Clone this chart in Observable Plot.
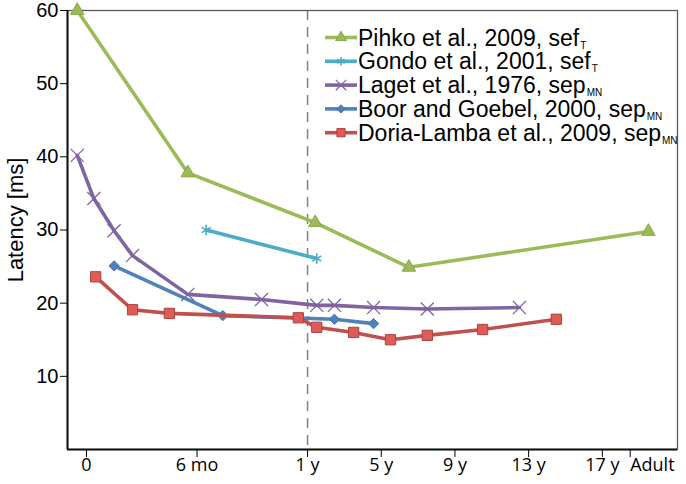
<!DOCTYPE html>
<html><head><meta charset="utf-8">
<script src="https://cdn.jsdelivr.net/npm/d3@7"></script>
<script src="https://cdn.jsdelivr.net/npm/@observablehq/plot@0.6"></script>
<style>body{margin:0;background:#fff} svg{display:block}</style>
</head><body><div id="chart"></div>
<script>
// ---- data (age in months; "Adult" plotted at ~19 y) ----
const seriesNames = ["Pihko et al., 2009, sef", "Gondo et al., 2001, sef", "Laget et al., 1976, sep", "Boor and Goebel, 2000, sep", "Doria-Lamba et al., 2009, sep"];
const seriesSubs = ["T", "T", "MN", "MN", "MN"];

const pihkoAge = [-0.5, 5.5, 17, 78, 234];
const pihkoLat = [60, 37.8, 31.0, 24.9, 29.8];

const gondoAge = [6.5, 18];
const gondoLat = [30.0, 26.1];

const lagetAge = [-0.5, 0.4, 1.5, 2.5, 5.5, 9.5, 18, 29.5, 55, 90, 150];
const lagetLat = [40.2, 34.3, 29.9, 26.5, 21.2, 20.5, 19.7, 19.7, 19.4, 19.2, 19.4];

const boorAge = [1.5, 7.4, 29.5, 55];
const boorLat = [25.1, 18.3, 17.8, 17.2];

const doriaAge = [0.5, 2.5, 4.5, 11.5, 18, 42, 66, 90, 126, 174];
const doriaLat = [23.6, 19.1, 18.6, 18.0, 16.7, 16.0, 15.0, 15.6, 16.4, 17.8];

const tickAges = [0, 6, 12, 60, 108, 156, 204, 228];
const tickLabels = ["0", "6 mo", "1 y", "5 y", "9 y", "13 y", "17 y", "Adult"];
const yTicks = [10, 20, 30, 40, 50, 60];

// ---- styles ----
const styles = [
  {color: "#9BBB59", symbol: "triangle", fill: "#9BBB59", stroke: "#86A846", r: 5, sw: 1},
  {color: "#4BACC6", symbol: "asterisk", fill: "none", stroke: "#4BACC6", r: 5, sw: 1.6},
  {color: "#8064A2", symbol: "times", fill: "none", stroke: "#8064A2", r: 6, sw: 1.3},
  {color: "#4F81BD", symbol: "diamond2", fill: "#4F81BD", stroke: "#3F6EA8", r: 4.6, sw: 1},
  {color: "#C0504D", symbol: "square", fill: "#DD5C58", stroke: "#B0403D", r: 5.8, sw: 1}
];

// piecewise age axis: first year in months, afterwards compressed 12x
const pos = m => m <= 12 ? m : 12 + (m - 12) / 12;
const tickPos = tickAges.map(pos);

const ages = [pihkoAge, gondoAge, lagetAge, boorAge, doriaAge];
const lats = [pihkoLat, gondoLat, lagetLat, boorLat, doriaLat];
const tables = ages.map((a, s) => a.map((age, i) => ({age, lat: lats[s][i]})));

const xMin = -1.03, xMax = 32.08;

const marks = [
  Plot.ruleX([pos(12)], {stroke: "#808080", strokeWidth: 1.5, strokeDasharray: "10,7"}),
  Plot.frame({stroke: "#5a5a5a", strokeWidth: 1.3}),
  Plot.ruleY([0], {stroke: "#111", strokeWidth: 2}),
  Plot.ruleX([xMin], {stroke: "#111", strokeWidth: 2}),
  Plot.axisY({ticks: yTicks, tickSize: 7, tickPadding: 2, fontSize: 20, label: null, fontFamily: "Liberation Sans"}),
  Plot.axisX({ticks: tickPos.slice(0, 7), tickFormat: d => tickLabels[tickPos.indexOf(d)], tickSize: 8, tickPadding: 1, fontSize: 18, label: null, fontFamily: "Open Sans"}),
  Plot.axisX({ticks: tickPos.slice(7), tickFormat: d => tickLabels[tickPos.indexOf(d)], tickSize: 8, tickPadding: 1, fontSize: 18, label: null, fontFamily: "Open Sans", textAnchor: "start", dx: -9})
];
tables.forEach((t, s) => {
  const st = styles[s];
  marks.push(Plot.line(t, {x: d => pos(d.age), y: "lat", stroke: st.color, strokeWidth: 3.6, strokeLinejoin: "round"}));
  marks.push(Plot.dot(t, {x: d => pos(d.age), y: "lat", symbol: st.symbol, r: st.r, fill: st.fill, stroke: st.stroke, strokeWidth: st.sw}));
});

const chart = Plot.plot({
  width: 686, height: 484,
  marginLeft: 67, marginRight: 9, marginTop: 10, marginBottom: 35,
  style: {fontFamily: "Liberation Sans", color: "#000", background: "#fff"},
  x: {type: "linear", domain: [xMin, xMax]},
  y: {domain: [0, 60]},
  marks
});

const svg = d3.select(chart);

// y-axis title
svg.append("text").attr("transform", "translate(23,220) rotate(-90)")
  .attr("text-anchor", "middle").style("font-family", "Liberation Sans").style("font-size", "22px")
  .attr("fill", "#000").text("Latency [ms]");

// ---- legend (inside the plot, top right) ----
const symMap = {triangle: d3.symbolTriangle, asterisk: d3.symbolAsterisk, times: d3.symbolTimes, diamond2: d3.symbolDiamond2, square: d3.symbolSquare};
const lg = svg.append("g").attr("text-anchor", "start");
seriesNames.forEach((name, i) => {
  const st = styles[i];
  const y = 37.5 + i * 23.8;
  lg.append("line").attr("x1", 325).attr("x2", 357).attr("y1", y).attr("y2", y)
    .attr("stroke", st.color).attr("stroke-width", 3.6);
  const rr = st.r * 0.8;
  lg.append("path").attr("transform", `translate(341,${y})`)
    .attr("d", d3.symbol(symMap[st.symbol], Math.PI * rr * rr)())
    .attr("fill", st.fill).attr("stroke", st.stroke).attr("stroke-width", st.sw);
  const t = lg.append("text").attr("x", 358).attr("y", y + 8).attr("fill", "#000")
    .attr("text-anchor", "start").style("font-family", "Liberation Sans").style("font-size", "23px");
  t.append("tspan").text(name);
  t.append("tspan").style("font-size", "10px").attr("dx", 1).attr("dy", 3).text(seriesSubs[i]);
});

document.getElementById("chart").append(chart);
</script>
</body></html>
